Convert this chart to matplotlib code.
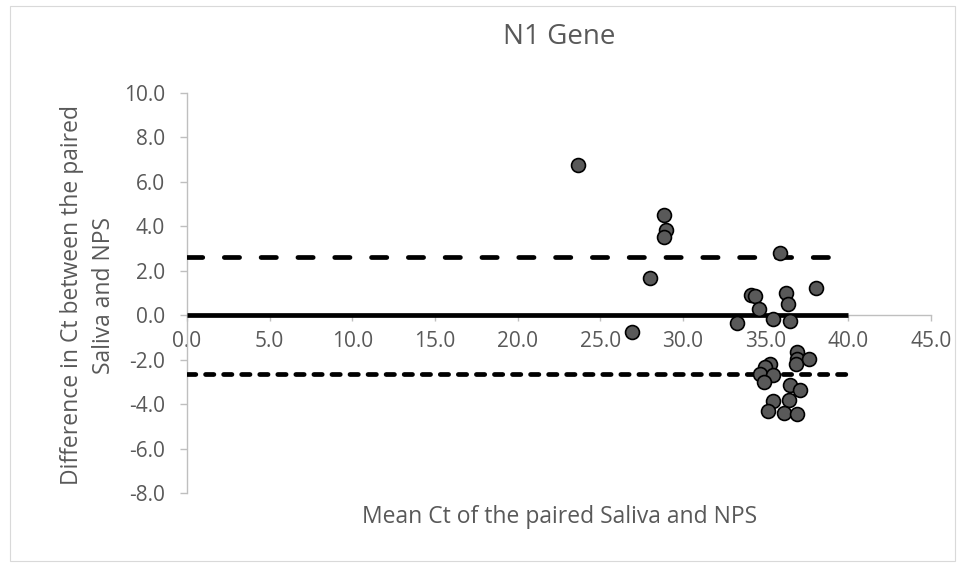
import matplotlib
matplotlib.use("Agg")
import matplotlib.pyplot as plt
from matplotlib.patches import Rectangle

plt.rcParams['font.family'] = ['Open Sans', 'DejaVu Sans']
plt.rcParams['lines.scale_dashes'] = False

# Bland-Altman style data
mean_ct = [23.63, 28.86, 28.96, 28.86, 28.01, 26.90, 33.29, 34.12, 34.36, 34.62,
           35.47, 35.87, 36.20, 36.35, 36.45, 38.03, 36.88, 36.88, 36.86, 37.65,
           35.27, 34.97, 34.66, 35.47, 34.90, 36.48, 37.08, 35.43, 36.44, 35.17,
           36.08, 36.92]
diff_ct = [6.75, 4.50, 3.82, 3.52, 1.68, -0.75, -0.37, 0.90, 0.85, 0.26,
           -0.19, 2.80, 0.99, 0.50, -0.24, 1.23, -1.65, -1.95, -2.17, -1.95,
           -2.17, -2.32, -2.62, -2.67, -3.00, -3.15, -3.34, -3.85, -3.82, -4.30,
           -4.39, -4.42]

line_x = [0, 40]
mean_diff = 0.0
upper_loa = 2.63
lower_loa = -2.66

x_ticks = [0, 5, 10, 15, 20, 25, 30, 35, 40, 45]
y_ticks = [-8, -6, -4, -2, 0, 2, 4, 6, 8, 10]

title = "N1 Gene"
x_label = "Mean Ct of the paired Saliva and NPS"
y_label = "Difference in Ct between the paired\nSaliva and NPS"

TEXT = "#595959"
AXIS = "#BFBFBF"

W, H = 961, 567
fig = plt.figure(figsize=(W / 100, H / 100), dpi=100)

# light chart border like Excel
fig.patches.append(Rectangle((10 / W, 1 - 561 / H), 945 / W, 555 / H,
                             transform=fig.transFigure, fill=False,
                             edgecolor="#D9D9D9", linewidth=0.8))

left, right, top, bottom = 187, 931, 92.7, 493.3
ax = fig.add_axes([left / W, 1 - bottom / H, (right - left) / W, (bottom - top) / H])

ax.plot(line_x, [mean_diff, mean_diff], color="black", lw=3.4,
        solid_capstyle="butt", zorder=3)
ax.plot(line_x, [upper_loa, upper_loa], color="black", lw=3.4,
        dashes=(11.0, 15.5), dash_capstyle="round", zorder=3)
ax.plot(line_x, [lower_loa, lower_loa], color="black", lw=3.4,
        dashes=(6.0, 7.0), dash_capstyle="round", zorder=3)

ax.scatter(mean_ct, diff_ct, s=100, facecolor="#595959", edgecolor="black",
           linewidth=1.2, zorder=4)

ax.set_xlim(0, 45)
ax.set_ylim(-8, 10)
ax.set_xticks(x_ticks)
ax.set_yticks(y_ticks)
ax.set_xticklabels([f"{v:.1f}" for v in x_ticks])
ax.set_yticklabels([f"{v:.1f}" for v in y_ticks])

for s in ("top", "right"):
    ax.spines[s].set_visible(False)
ax.spines["bottom"].set_position(("data", 0))
for s in ("left", "bottom"):
    ax.spines[s].set_color(AXIS)
    ax.spines[s].set_linewidth(1.0)
ax.spines["bottom"].set_zorder(2)

ax.tick_params(axis="x", direction="out", length=4, width=1.0, color=AXIS,
               labelcolor=TEXT, labelsize=15, pad=7)
ax.tick_params(axis="y", direction="out", length=5, width=1.0, color=AXIS,
               labelcolor=TEXT, labelsize=15, pad=11)

fig.text(559 / W, 1 - 37 / H, title, ha="center", va="center",
         fontsize=20, color=TEXT)
fig.text(560 / W, 1 - 517 / H, x_label, ha="center", va="center",
         fontsize=16.5, color=TEXT)
fig.text(88 / W, 1 - 295 / H, y_label, ha="center", va="center",
         rotation=90, multialignment="center", fontsize=16.5, color=TEXT,
         linespacing=1.45)

fig.savefig("out.png", dpi=100)
